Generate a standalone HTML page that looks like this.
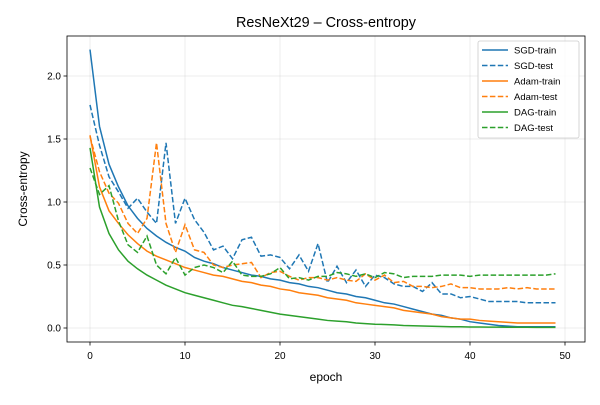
<!DOCTYPE html>
<html><head><meta charset="utf-8"><style>
body{margin:0;background:#fff}
svg text{font-family:"Liberation Sans",sans-serif;fill:#000}
</style></head><body>
<svg id="c" width="600" height="400" xmlns="http://www.w3.org/2000/svg"></svg>
<script>
const epochs = Array.from({length:50},(_, i)=>i);
const sgdTrain=[2.21,1.6,1.3,1.12,0.97,0.87,0.79,0.73,0.68,0.64,0.61,0.56,0.53,0.51,0.48,0.46,0.44,0.42,0.41,0.39,0.38,0.36,0.35,0.33,0.32,0.30,0.28,0.27,0.25,0.24,0.22,0.20,0.19,0.17,0.15,0.13,0.11,0.10,0.08,0.07,0.05,0.04,0.03,0.02,0.015,0.01,0.01,0.01,0.01,0.01];
const sgdTest=[1.77,1.45,1.2,1.08,0.95,1.03,0.92,0.83,1.47,0.83,1.03,0.86,0.76,0.62,0.65,0.55,0.70,0.72,0.57,0.58,0.56,0.47,0.58,0.45,0.67,0.36,0.49,0.36,0.46,0.33,0.42,0.40,0.35,0.33,0.33,0.29,0.36,0.27,0.27,0.24,0.25,0.23,0.21,0.21,0.21,0.21,0.20,0.20,0.20,0.20];
const adamTrain=[1.53,1.12,0.93,0.83,0.74,0.67,0.61,0.57,0.54,0.51,0.48,0.46,0.44,0.42,0.41,0.39,0.37,0.36,0.34,0.33,0.31,0.30,0.28,0.27,0.26,0.24,0.23,0.22,0.20,0.19,0.18,0.17,0.16,0.14,0.13,0.12,0.11,0.09,0.08,0.07,0.07,0.06,0.055,0.05,0.045,0.04,0.04,0.04,0.04,0.04];
const adamTest=[1.52,1.24,1.07,0.99,0.83,0.75,0.87,1.47,0.83,0.60,0.82,0.62,0.60,0.50,0.48,0.50,0.51,0.52,0.40,0.44,0.45,0.41,0.38,0.40,0.40,0.38,0.40,0.38,0.37,0.43,0.38,0.42,0.36,0.37,0.33,0.33,0.32,0.33,0.35,0.32,0.32,0.31,0.31,0.31,0.32,0.31,0.32,0.31,0.31,0.31];
const dagTrain=[1.43,0.96,0.75,0.62,0.53,0.47,0.42,0.38,0.34,0.31,0.28,0.26,0.24,0.22,0.20,0.18,0.17,0.155,0.14,0.125,0.11,0.10,0.09,0.08,0.07,0.06,0.055,0.05,0.04,0.035,0.03,0.028,0.025,0.02,0.018,0.016,0.014,0.012,0.01,0.01,0.008,0.008,0.007,0.007,0.006,0.006,0.006,0.005,0.005,0.005];
const dagTest=[1.27,1.06,1.13,0.85,0.66,0.60,0.73,0.50,0.43,0.56,0.42,0.48,0.50,0.48,0.44,0.53,0.42,0.41,0.41,0.43,0.48,0.39,0.40,0.38,0.41,0.41,0.44,0.43,0.41,0.43,0.40,0.44,0.43,0.40,0.41,0.41,0.41,0.42,0.42,0.42,0.41,0.42,0.42,0.42,0.42,0.42,0.42,0.42,0.42,0.43];
const xTicks=[0,10,20,30,40,50];
const yTicks=[0.0,0.5,1.0,1.5,2.0];
const seriesNames=["SGD-train","SGD-test","Adam-train","Adam-test","DAG-train","DAG-test"];
const seriesData=[sgdTrain,sgdTest,adamTrain,adamTest,dagTrain,dagTest];
const colors=["#1f77b4","#1f77b4","#ff7f0e","#ff7f0e","#2ca02c","#2ca02c"];
const dashed=[false,true,false,true,false,true];

const NS="http://www.w3.org/2000/svg";
const svg=document.getElementById('c');
const L=67,R=585,T=36,B=342;
const X=v=>90+v*9.5;
const Y=v=>328-v*126;
function el(t,a,p){const e=document.createElementNS(NS,t);for(const k in a)e.setAttribute(k,a[k]);(p||svg).appendChild(e);return e;}

xTicks.forEach(v=>{
  const g=el('line',{x1:X(v),x2:X(v),y1:T,y2:B,stroke:'#b0b0b0','stroke-opacity':0.3,'stroke-width':0.8});
  
  
  el('line',{x1:X(v),x2:X(v),y1:B,y2:B+3.5,stroke:'#000','stroke-width':0.8});
  const t=el('text',{x:X(v),y:B+17,'text-anchor':'middle','font-size':10});
  t.textContent=v;
  
  
});
yTicks.forEach(v=>{
  const g=el('line',{x1:L,x2:R,y1:Y(v),y2:Y(v),stroke:'#b0b0b0','stroke-opacity':0.3,'stroke-width':0.8});
  
  
  el('line',{x1:L-3.5,x2:L,y1:Y(v),y2:Y(v),stroke:'#000','stroke-width':0.8});
  const t=el('text',{x:L-6,y:Y(v)+3.5,'text-anchor':'end','font-size':10});
  t.textContent=v.toFixed(1);
  
  
});
seriesData.forEach((d,i)=>{
  const p=el('polyline',{points:d.map((v,j)=>X(epochs[j])+','+Y(v)).join(' '),fill:'none',stroke:colors[i],'stroke-width':1.5,'stroke-dasharray':dashed[i]?'5.5,2.4':'none'});
  
  
});
const frame=el('rect',{x:L,y:T,width:R-L,height:B-T,fill:'none',stroke:'#000','stroke-width':0.8});



const title=el('text',{x:326,y:27,'text-anchor':'middle','font-size':14.4});
title.textContent='ResNeXt29 – Cross-entropy';


const xl=el('text',{x:326,y:381,'text-anchor':'middle','font-size':12});
xl.textContent='epoch';


const yl=el('text',{x:27,y:189,'text-anchor':'middle','font-size':12,transform:'rotate(-90 27 189)'});
yl.textContent='Cross-entropy';



const lg=el('g',{});


el('rect',{x:478,y:41,width:101,height:97,rx:2,fill:'#fff','fill-opacity':0.8,stroke:'#ccc','stroke-width':0.8},lg);
seriesNames.forEach((n,i)=>{
  const y=50+i*15.5;
  el('line',{x1:482,x2:508,y1:y,y2:y,stroke:colors[i],'stroke-width':1.5,'stroke-dasharray':dashed[i]?'5.5,2.4':'none'},lg);
  const t=el('text',{x:514,y:y+3.5,'font-size':9.5},lg);
  t.textContent=n;
  
  
});
</script>
</body></html>
